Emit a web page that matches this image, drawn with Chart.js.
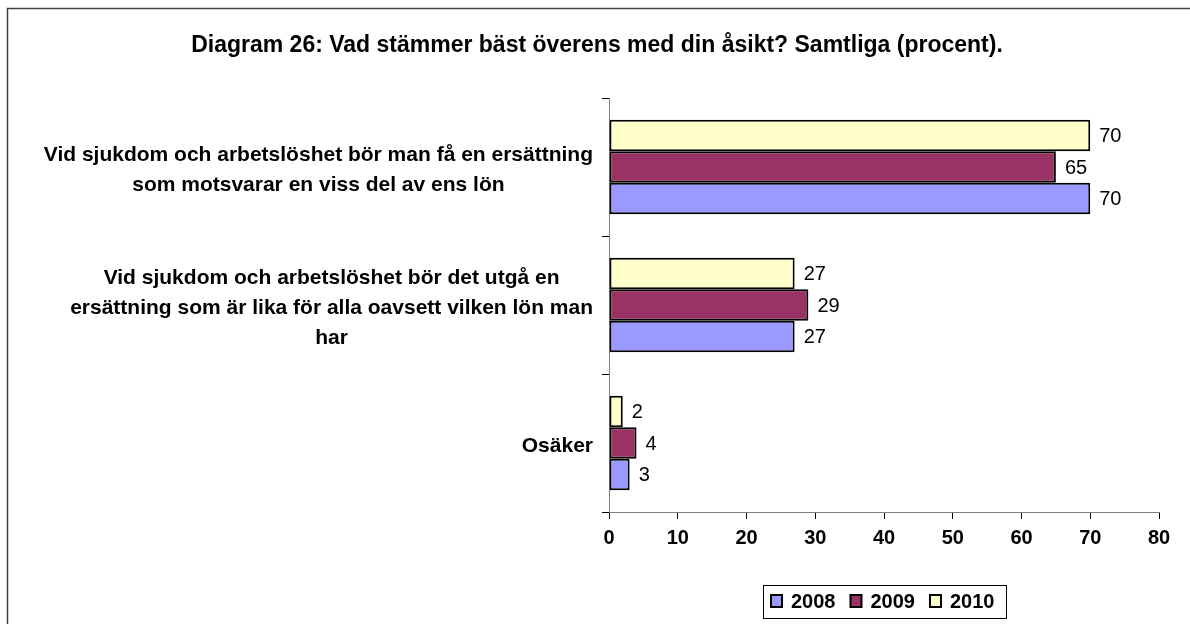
<html>
<head>
<title>Diagram 26</title>
<script src="https://cdn.jsdelivr.net/npm/chart.js@4.4.1/dist/chart.umd.min.js"></script>
<style>
  body { margin: 0; background: #fff; }
  #wrap { position: relative; width: 1190px; height: 624px; }
</style>
</head>
<body>
<div id="wrap">
  <canvas id="myChart" width="1190" height="624"></canvas>
</div>
<script>
// data
var categories = [
  ["Vid sjukdom och arbetslöshet bör man få en ersättning", "som motsvarar en viss del av ens lön"],
  ["Vid sjukdom och arbetslöshet bör det utgå en", "ersättning som är lika för alla oavsett vilken lön man", "har"],
  ["Osäker"]
];
var years = ["2008", "2009", "2010"];
var values2008 = [70, 27, 3];
var values2009 = [65, 29, 4];
var values2010 = [70, 27, 2];
var xTicks = [0, 10, 20, 30, 40, 50, 60, 70, 80];
var titleText = "Diagram 26: Vad stämmer bäst överens med din åsikt? Samtliga (procent).";

var colors = { "2008": "#9999ff", "2009": "#993366", "2010": "#ffffcc" };
var font = "'Liberation Sans', Arial, sans-serif";

// draws title, frame, wrapped category labels, value labels and the legend
var extras = {
  id: 'extras',
  afterDraw: function(chart) {
    var c = chart.ctx;
    var yScale = chart.scales.y;
    c.save();

    // outer frame (only left/top edges visible in the picture)
    c.strokeStyle = '#404040';
    c.lineWidth = 1.5;
    c.strokeRect(7.5, 8.5, 1400, 1000);

    // title
    c.fillStyle = '#000';
    c.font = 'bold 23px ' + font;
    c.textAlign = 'center';
    c.textBaseline = 'middle';
    c.fillText(titleText, 597, 46);

    // category labels, lines centred in a block that is right aligned
    c.font = 'bold 21px ' + font;
    categories.forEach(function(lines, i) {
      var maxW = 0;
      lines.forEach(function(l) { maxW = Math.max(maxW, c.measureText(l).width); });
      var cx = 593 - maxW / 2;
      var cy = yScale.getPixelForValue(i) + 3;
      var lh = 30;
      lines.forEach(function(l, k) {
        c.fillText(l, cx, cy + (k - (lines.length - 1) / 2) * lh);
      });
    });

    // value labels
    c.font = '20px ' + font;
    c.textAlign = 'left';
    chart.data.datasets.forEach(function(ds, di) {
      chart.getDatasetMeta(di).data.forEach(function(bar, j) {
        c.fillText(String(ds.data[j]), bar.x + 9, bar.y + 1);
      });
    });

    // legend box
    c.strokeStyle = '#000';
    c.lineWidth = 1;
    c.strokeRect(763.5, 585.5, 243, 33);
    c.font = 'bold 20px ' + font;
    var lx = 771;
    years.forEach(function(y) {
      c.fillStyle = colors[y];
      c.fillRect(lx, 595, 11, 12);
      c.strokeStyle = '#000';
      c.lineWidth = 2;
      c.strokeRect(lx, 595, 11, 12);
      c.fillStyle = '#000';
      c.fillText(y, lx + 20, 602);
      lx += c.measureText(y).width + 35;
    });
    c.restore();
  }
};

var ctx = document.getElementById('myChart').getContext('2d');
var myChart = new Chart(ctx, {
  type: 'bar',
  data: {
    labels: categories,
    datasets: [
      { label: '2010', data: values2010, backgroundColor: colors['2010'] },
      { label: '2009', data: values2009, backgroundColor: colors['2009'] },
      { label: '2008', data: values2008, backgroundColor: colors['2008'] }
    ]
  },
  options: {
    indexAxis: 'y',
    responsive: false,
    animation: false,
    layout: { padding: { left: 0, top: 98, right: 31, bottom: 0 } },
    datasets: {
      bar: {
        borderColor: '#000',
        borderWidth: 2,
        borderSkipped: false,
        categoryPercentage: 0.684,
        barPercentage: 1
      }
    },
    plugins: {
      legend: { display: false },
      title: { display: false },
      tooltip: { enabled: false }
    },
    scales: {
      x: {
        min: 0,
        max: 80,
        afterFit: function(s) { s.height = 112; },
        afterBuildTicks: function(s) { s.ticks = xTicks.map(function(v) { return { value: v }; }); },
        grid: { drawOnChartArea: false, tickLength: 7, color: '#000' },
        border: { color: '#808080', width: 1 },
        ticks: { color: '#000', font: { family: font, size: 20, weight: 'bold' }, padding: 7, maxRotation: 0 }
      },
      y: {
        afterFit: function(s) { s.width = 609; },
        grid: { offset: true, drawOnChartArea: false, tickLength: 7, color: '#000' },
        border: { color: '#808080', width: 1 },
        ticks: { display: false }
      }
    }
  },
  plugins: [extras]
});
</script>
</body>
</html>
